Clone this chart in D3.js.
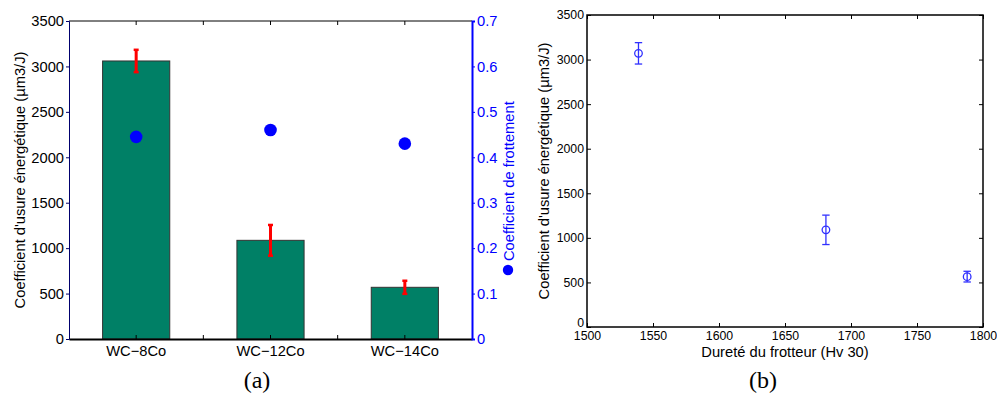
<!DOCTYPE html>
<html><head><meta charset="utf-8">
<script src="https://cdn.jsdelivr.net/npm/d3@7"></script>
<style>body{margin:0;background:#fff}svg{display:block}text{font-family:"Liberation Sans",Arial,sans-serif}</style>
</head><body>
<svg id="c" width="997" height="409"></svg>
<script>
// ---- data ----
const categories = ["WC\u22128Co", "WC\u221212Co", "WC\u221214Co"];
const wearValues = [3060, 1086, 569];
const wearErrors = [123, 169, 72];
const frictionValues = [0.445, 0.460, 0.430];
const leftTicks = [0, 500, 1000, 1500, 2000, 2500, 3000, 3500];
const rightTicks = [0, 0.1, 0.2, 0.3, 0.4, 0.5, 0.6, 0.7];
const hardness = [1539, 1681, 1788];
const wearB = [3070, 1090, 565];
const wearBErr = [120, 165, 60];
const xTicksB = [1500, 1550, 1600, 1650, 1700, 1750, 1800];
const yTicksB = [0, 500, 1000, 1500, 2000, 2500, 3000, 3500];

const svg = d3.select("#c");

// ================= Chart (a) =================
const A = {l: 69, r: 472, t: 21, b: 339};
const x = d3.scaleBand().domain(categories).range([A.l, A.r]).paddingInner(0.5).paddingOuter(0.25);
const y = d3.scaleLinear().domain([0, 3500]).range([A.b, A.t]);
const y2 = d3.scaleLinear().domain([0, 0.7]).range([A.b, A.t]);
const ga = svg.append("g");

// bars
ga.selectAll("rect.bar").data(categories).join("rect")
  .attr("x", d => x(d)).attr("width", x.bandwidth())
  .attr("y", (d, i) => y(wearValues[i])).attr("height", (d, i) => y(0) - y(wearValues[i]))
  .attr("fill", "#008066").attr("stroke", "#333").attr("stroke-width", 1);

// frame top line
ga.append("line").attr("x1", A.l).attr("x2", A.r).attr("y1", A.t).attr("y2", A.t).attr("stroke", "#000").attr("stroke-width", 1);
// ticks top & bottom (category centers and midpoints)
const step = x.step();
const xtickPos = [];
categories.forEach((c, i) => { xtickPos.push(x(c) + x.bandwidth() / 2); if (i < categories.length - 1) xtickPos.push(x(c) + x.bandwidth() / 2 + step / 2); });
xtickPos.forEach(p => {
  ga.append("line").attr("x1", p).attr("x2", p).attr("y1", A.t).attr("y2", A.t + 4).attr("stroke", "#000");
  ga.append("line").attr("x1", p).attr("x2", p).attr("y1", A.b).attr("y2", A.b - 4).attr("stroke", "#000");
});

// error bars
categories.forEach((c, i) => {
  const cx = x(c) + x.bandwidth() / 2;
  const top = y(wearValues[i] + wearErrors[i]), bot = y(wearValues[i] - wearErrors[i]);
  ga.append("line").attr("x1", cx).attr("x2", cx).attr("y1", top).attr("y2", bot).attr("stroke", "#ff0000").attr("stroke-width", 3);
  [top, bot].forEach(v => ga.append("line").attr("x1", cx - 2.5).attr("x2", cx + 2.5).attr("y1", v).attr("y2", v).attr("stroke", "#ff0000").attr("stroke-width", 2.5));
});

// friction dots
ga.selectAll("circle.fr").data(categories).join("circle")
  .attr("cx", d => x(d) + x.bandwidth() / 2).attr("cy", (d, i) => y2(frictionValues[i]))
  .attr("r", 6.3).attr("fill", "#0000ff");

// left axis
const leftAxis = d3.axisLeft(y).tickValues(leftTicks).tickSize(3).tickPadding(2).tickFormat(d3.format("d"));
const gl = ga.append("g").attr("transform", `translate(${A.l},0)`).call(leftAxis);
gl.select(".domain").attr("stroke", "#00006e").attr("stroke-width", 1);
gl.selectAll(".tick line").attr("stroke", "#00006e");
gl.selectAll("text").attr("font-size", "14.7px").attr("fill", "#000");

// bottom axis
const bottomAxis = d3.axisBottom(x).tickSize(0).tickPadding(6);
const gb = ga.append("g").attr("transform", `translate(0,${A.b})`).call(bottomAxis);
gb.select(".domain").attr("stroke", "#000").attr("stroke-width", 2);
gb.selectAll("text").attr("font-size", "14.7px").attr("fill", "#000").attr("dy", "0.72em");

// right axis
const rightAxis = d3.axisRight(y2).tickValues(rightTicks).tickSize(3).tickPadding(2).tickFormat(d => d === 0 ? "0" : d3.format(".1f")(d));
const gr = ga.append("g").attr("transform", `translate(${A.r},0)`).call(rightAxis);
gr.select(".domain").attr("stroke", "#0000ff").attr("stroke-width", 2);
gr.selectAll(".tick line").attr("stroke", "#0000ff");
gr.selectAll("text").attr("font-size", "14.7px").attr("fill", "#0000ff");

// axis titles
ga.append("text").attr("transform", `translate(25,${(A.t + A.b) / 2}) rotate(-90)`)
  .attr("text-anchor", "middle").attr("font-size", "14.7px").attr("fill", "#000")
  .text("Coefficient d'usure énergétique (µm3/J)");
ga.append("circle").attr("cx", 508).attr("cy", 270).attr("r", 5.2).attr("fill", "#0000ff");
ga.append("text").attr("transform", `translate(514,261) rotate(-90)`)
  .attr("text-anchor", "start").attr("font-size", "14.7px").attr("fill", "#0000ff")
  .text("Coefficient de frottement");

svg.append("text").attr("x", 257).attr("y", 388).attr("text-anchor", "middle")
  .style("font-family", "'Liberation Serif', 'DejaVu Serif', serif").attr("font-size", "24px").text("(a)");

// ================= Chart (b) =================
const B = {l: 587, r: 983, t: 15, b: 327};
const xb = d3.scaleLinear().domain([1500, 1800]).range([B.l, B.r]);
const yb = d3.scaleLinear().domain([0, 3500]).range([B.b, B.t]);
const gbb = svg.append("g");

gbb.append("rect").attr("x", B.l).attr("y", B.t).attr("width", B.r - B.l).attr("height", B.b - B.t)
  .attr("fill", "none").attr("stroke", "#000").attr("stroke-width", 1.5);

const axB = d3.axisBottom(xb).tickValues(xTicksB).tickSize(-4).tickPadding(4).tickFormat(d3.format("d"));
const gxb = gbb.append("g").attr("transform", `translate(0,${B.b})`).call(axB);
const axT = d3.axisTop(xb).tickValues(xTicksB).tickSize(-4).tickFormat("");
const gxt = gbb.append("g").attr("transform", `translate(0,${B.t})`).call(axT);
const axL = d3.axisLeft(yb).tickValues(yTicksB).tickSize(-4).tickPadding(3).tickFormat(d3.format("d"));
const gyl = gbb.append("g").attr("transform", `translate(${B.l},0)`).call(axL);
const axR = d3.axisRight(yb).tickValues(yTicksB).tickSize(-4).tickFormat("");
const gyr = gbb.append("g").attr("transform", `translate(${B.r},0)`).call(axR);
[gxb, gxt, gyl, gyr].forEach(g => { g.select(".domain").remove(); g.selectAll(".tick line").attr("stroke", "#000"); });
[gxb, gyl].forEach(g => g.selectAll("text").attr("font-size", "12.3px").attr("fill", "#000"));
gyl.selectAll(".tick").filter(d => d === 0).select("text").attr("dy", "-0.05em");

// error bars + markers
hardness.forEach((h, i) => {
  const cx = xb(h);
  const top = yb(wearB[i] + wearBErr[i]), bot = yb(wearB[i] - wearBErr[i]);
  gbb.append("line").attr("x1", cx).attr("x2", cx).attr("y1", top).attr("y2", bot).attr("stroke", "#3030ff").attr("stroke-width", 1.3);
  [top, bot].forEach(v => gbb.append("line").attr("x1", cx - 3.7).attr("x2", cx + 3.7).attr("y1", v).attr("y2", v).attr("stroke", "#3030ff").attr("stroke-width", 1.3));
});
gbb.selectAll("circle.pt").data(hardness).join("circle")
  .attr("cx", d => xb(d)).attr("cy", (d, i) => yb(wearB[i])).attr("r", 3.8)
  .attr("fill", "none").attr("stroke", "#3030ff").attr("stroke-width", 1.3);

gbb.append("text").attr("transform", `translate(549,${(B.t + B.b) / 2}) rotate(-90)`)
  .attr("text-anchor", "middle").attr("font-size", "14.7px").attr("fill", "#000")
  .text("Coefficient d'usure énergétique (µm3/J)");
gbb.append("text").attr("x", (B.l + B.r) / 2).attr("y", 357).attr("text-anchor", "middle")
  .attr("font-size", "14.7px").attr("fill", "#000").text("Dureté du frotteur (Hv 30)");

svg.append("text").attr("x", 763).attr("y", 388).attr("text-anchor", "middle")
  .style("font-family", "'Liberation Serif', 'DejaVu Serif', serif").attr("font-size", "24px").text("(b)");
</script>
</body></html>
